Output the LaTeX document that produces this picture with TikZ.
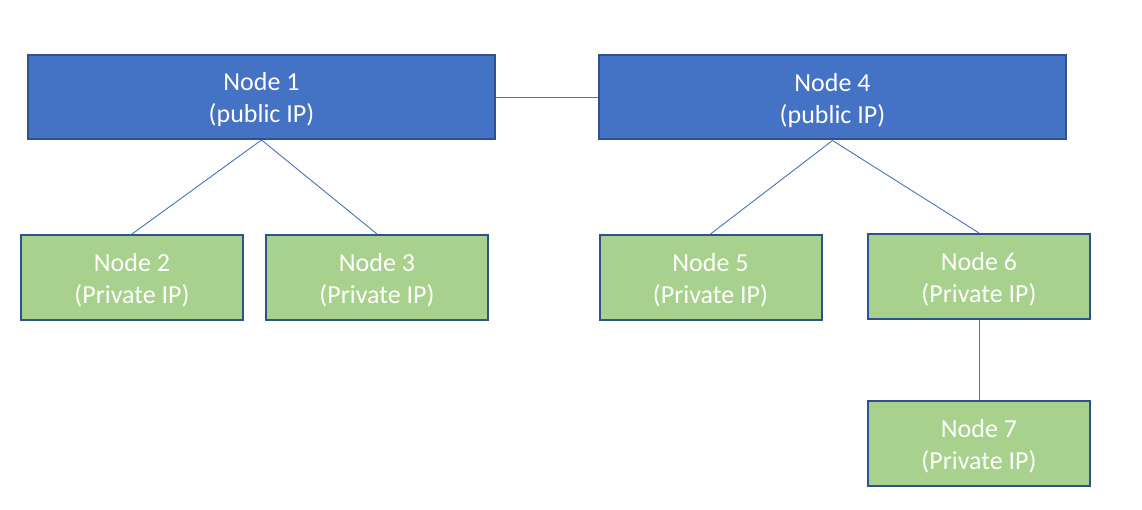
\documentclass[tikz,border=0pt]{standalone}
\usepackage{fontspec}
\setmainfont{Carlito}
\definecolor{pubfill}{HTML}{4472C4}
\definecolor{privfill}{HTML}{A9D18E}
\definecolor{edge}{HTML}{2F528F}
\definecolor{link}{HTML}{4472C4}
\begin{document}
\begin{tikzpicture}[x=1pt,y=-1pt,
  box/.style={draw=edge,line width=2pt,inner sep=0pt},
  pub/.style={box,fill=pubfill,minimum width=467pt,minimum height=84pt},
  priv/.style={box,fill=privfill,minimum width=222pt,minimum height=85pt},
  lbl/.style={text=white,align=center,inner sep=0pt,font=\fontsize{26}{32}\selectfont},
  conn/.style={draw=link,line width=0.9pt}]
\useasboundingbox (0,0) rectangle (1142,510);
\node[pub] (n1) at (261.5,97) {};
\node[pub] (n4) at (832.5,97.5) {};
\node[priv] (n2) at (132,277.5) {};
\node[priv] (n3) at (377,277.5) {};
\node[priv] (n5) at (710.5,277.5) {};
\node[priv] (n6) at (979,276.5) {};
\node[priv] (n7) at (979,443.5) {};
\node[lbl] (t1) at ([yshift=-3pt]n1.center) {Node 1\\(public IP)};
\node[lbl] (t4) at ([yshift=-3pt]n4.center) {Node 4\\(public IP)};
\node[lbl] (t2) at ([yshift=-3pt]n2.center) {Node 2\\(Private IP)};
\node[lbl] (t3) at ([yshift=-3pt]n3.center) {Node 3\\(Private IP)};
\node[lbl] (t5) at ([yshift=-3pt]n5.center) {Node 5\\(Private IP)};
\node[lbl] (t6) at ([yshift=-3pt]n6.center) {Node 6\\(Private IP)};
\node[lbl] (t7) at ([yshift=-3pt]n7.center) {Node 7\\(Private IP)};
\draw[conn] (n1.east) -- (n4.west |- n1.east);
\draw[conn] (n1.south) -- (n2.north);
\draw[conn] (n1.south) -- (n3.north);
\draw[conn] (n4.south) -- (n5.north);
\draw[conn] (n4.south) -- (n6.north);
\draw[conn] (n6.south) -- (n7.north);
\end{tikzpicture}
\end{document}
